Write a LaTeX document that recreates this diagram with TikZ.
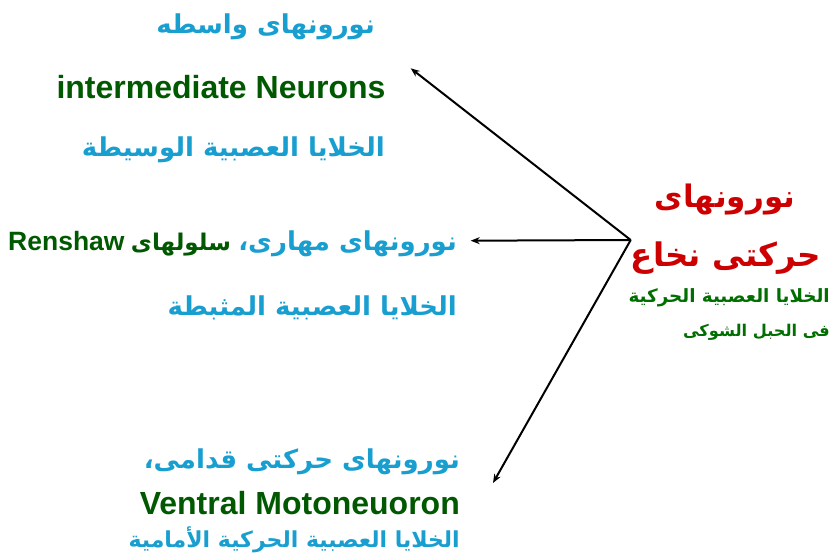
\documentclass[tikz,border=0pt]{standalone}
\usepackage{fontspec}
\setmainfont{Liberation Sans}
\newfontfamily\arabicfont[Script=Arabic]{DejaVu Sans}
\TeXXeTstate=1
\usetikzlibrary{arrows.meta,positioning}
\definecolor{faBlue}{RGB}{25,158,208}
\definecolor{enGreen}{RGB}{0,88,0}
\definecolor{subGreen}{RGB}{0,110,0}
\definecolor{hubRed}{RGB}{204,0,0}

\begin{document}
\begin{tikzpicture}[x=1pt, y=-1pt, >={Stealth[length=9pt,width=7pt]},
    fa/.style={text=faBlue, inner sep=0pt, font=\arabicfont\bfseries\fontsize{26}{30}\selectfont},
    faG/.style={fa, text=enGreen},
    en/.style={text=enGreen, inner sep=0pt, font=\bfseries\fontsize{32}{36}\selectfont},
    hub/.style={text=hubRed, inner sep=0pt, font=\arabicfont\bfseries\fontsize{31}{35}\selectfont},
    hubsub/.style={text=subGreen, inner sep=0pt, font=\arabicfont\bfseries\fontsize{17.5}{20}\selectfont}]
        \useasboundingbox (0,0) rectangle (835,557);

        % Top group: intermediate neurons
        \node[fa, anchor=east] (interFa) at (375,27) {\beginR نورونهای واسطه\endR};
        \node[en] (interEn) at (221,87) {intermediate Neurons};
        \node[fa, anchor=east] (interAr) at (385,150) {\beginR الخلايا العصبية الوسيطة\endR};

        % Middle group: Renshaw cells
        \node[fa, anchor=east] (inhibFa) at (457,244) {\beginR نورونهای مهاری،\endR};
        \node[faG, font=\arabicfont\bfseries\fontsize{23}{27}\selectfont, base left=7pt of inhibFa] (renCells) {\beginR سلولهای\endR};
        \node[en, font=\bfseries\fontsize{26.5}{30}\selectfont, base left=6pt of renCells] (renshaw) {Renshaw};
        \node[fa, anchor=east] (inhibAr) at (457,308) {\beginR الخلايا العصبية المثبطة\endR};

        % Bottom group: ventral motoneurons
        \node[fa, anchor=east] (ventFa) at (460,462) {\beginR نورونهای حرکتی قدامی،\endR};
        \node[en, anchor=east] (ventEn) at (460,503) {Ventral Motoneuoron};
        \node[fa, font=\arabicfont\bfseries\fontsize{22}{26}\selectfont, anchor=east] (ventAr) at (460,540) {\beginR الخلايا العصبية الحركية الأمامية\endR};

        % Right: spinal motor neurons
        \node[hub] (hubTop) at (725,200) {\beginR نورونهای\endR};
        \node[hub, font=\arabicfont\bfseries\fontsize{32.5}{36}\selectfont] (hubMid) at (726,258) {\beginR حرکتی نخاع\endR};
        \node[hubsub, font=\arabicfont\bfseries\fontsize{18.3}{21}\selectfont, anchor=east] (hubAr) at (830,298) {\beginR الخلايا العصبية الحركية\endR};
        \node[hubsub, font=\arabicfont\bfseries\fontsize{16.2}{19}\selectfont, anchor=east] (hubCord) at (830,332) {\beginR فی الحبل الشوکی\endR};

        % Arrows
        \coordinate (hub) at (630.7,240);
        \coordinate (tipInter) at (410.7,68.3);
        \coordinate (tipInhib) at (470.7,240.7);
        \coordinate (tipVent) at (493,483);
        \draw[->, line width=2pt] (hub) -- (tipInter);
        \draw[->, line width=2pt] (hub) -- (tipInhib);
        \draw[->, line width=2pt] (hub) -- (tipVent);

    \end{tikzpicture}
\end{document}
